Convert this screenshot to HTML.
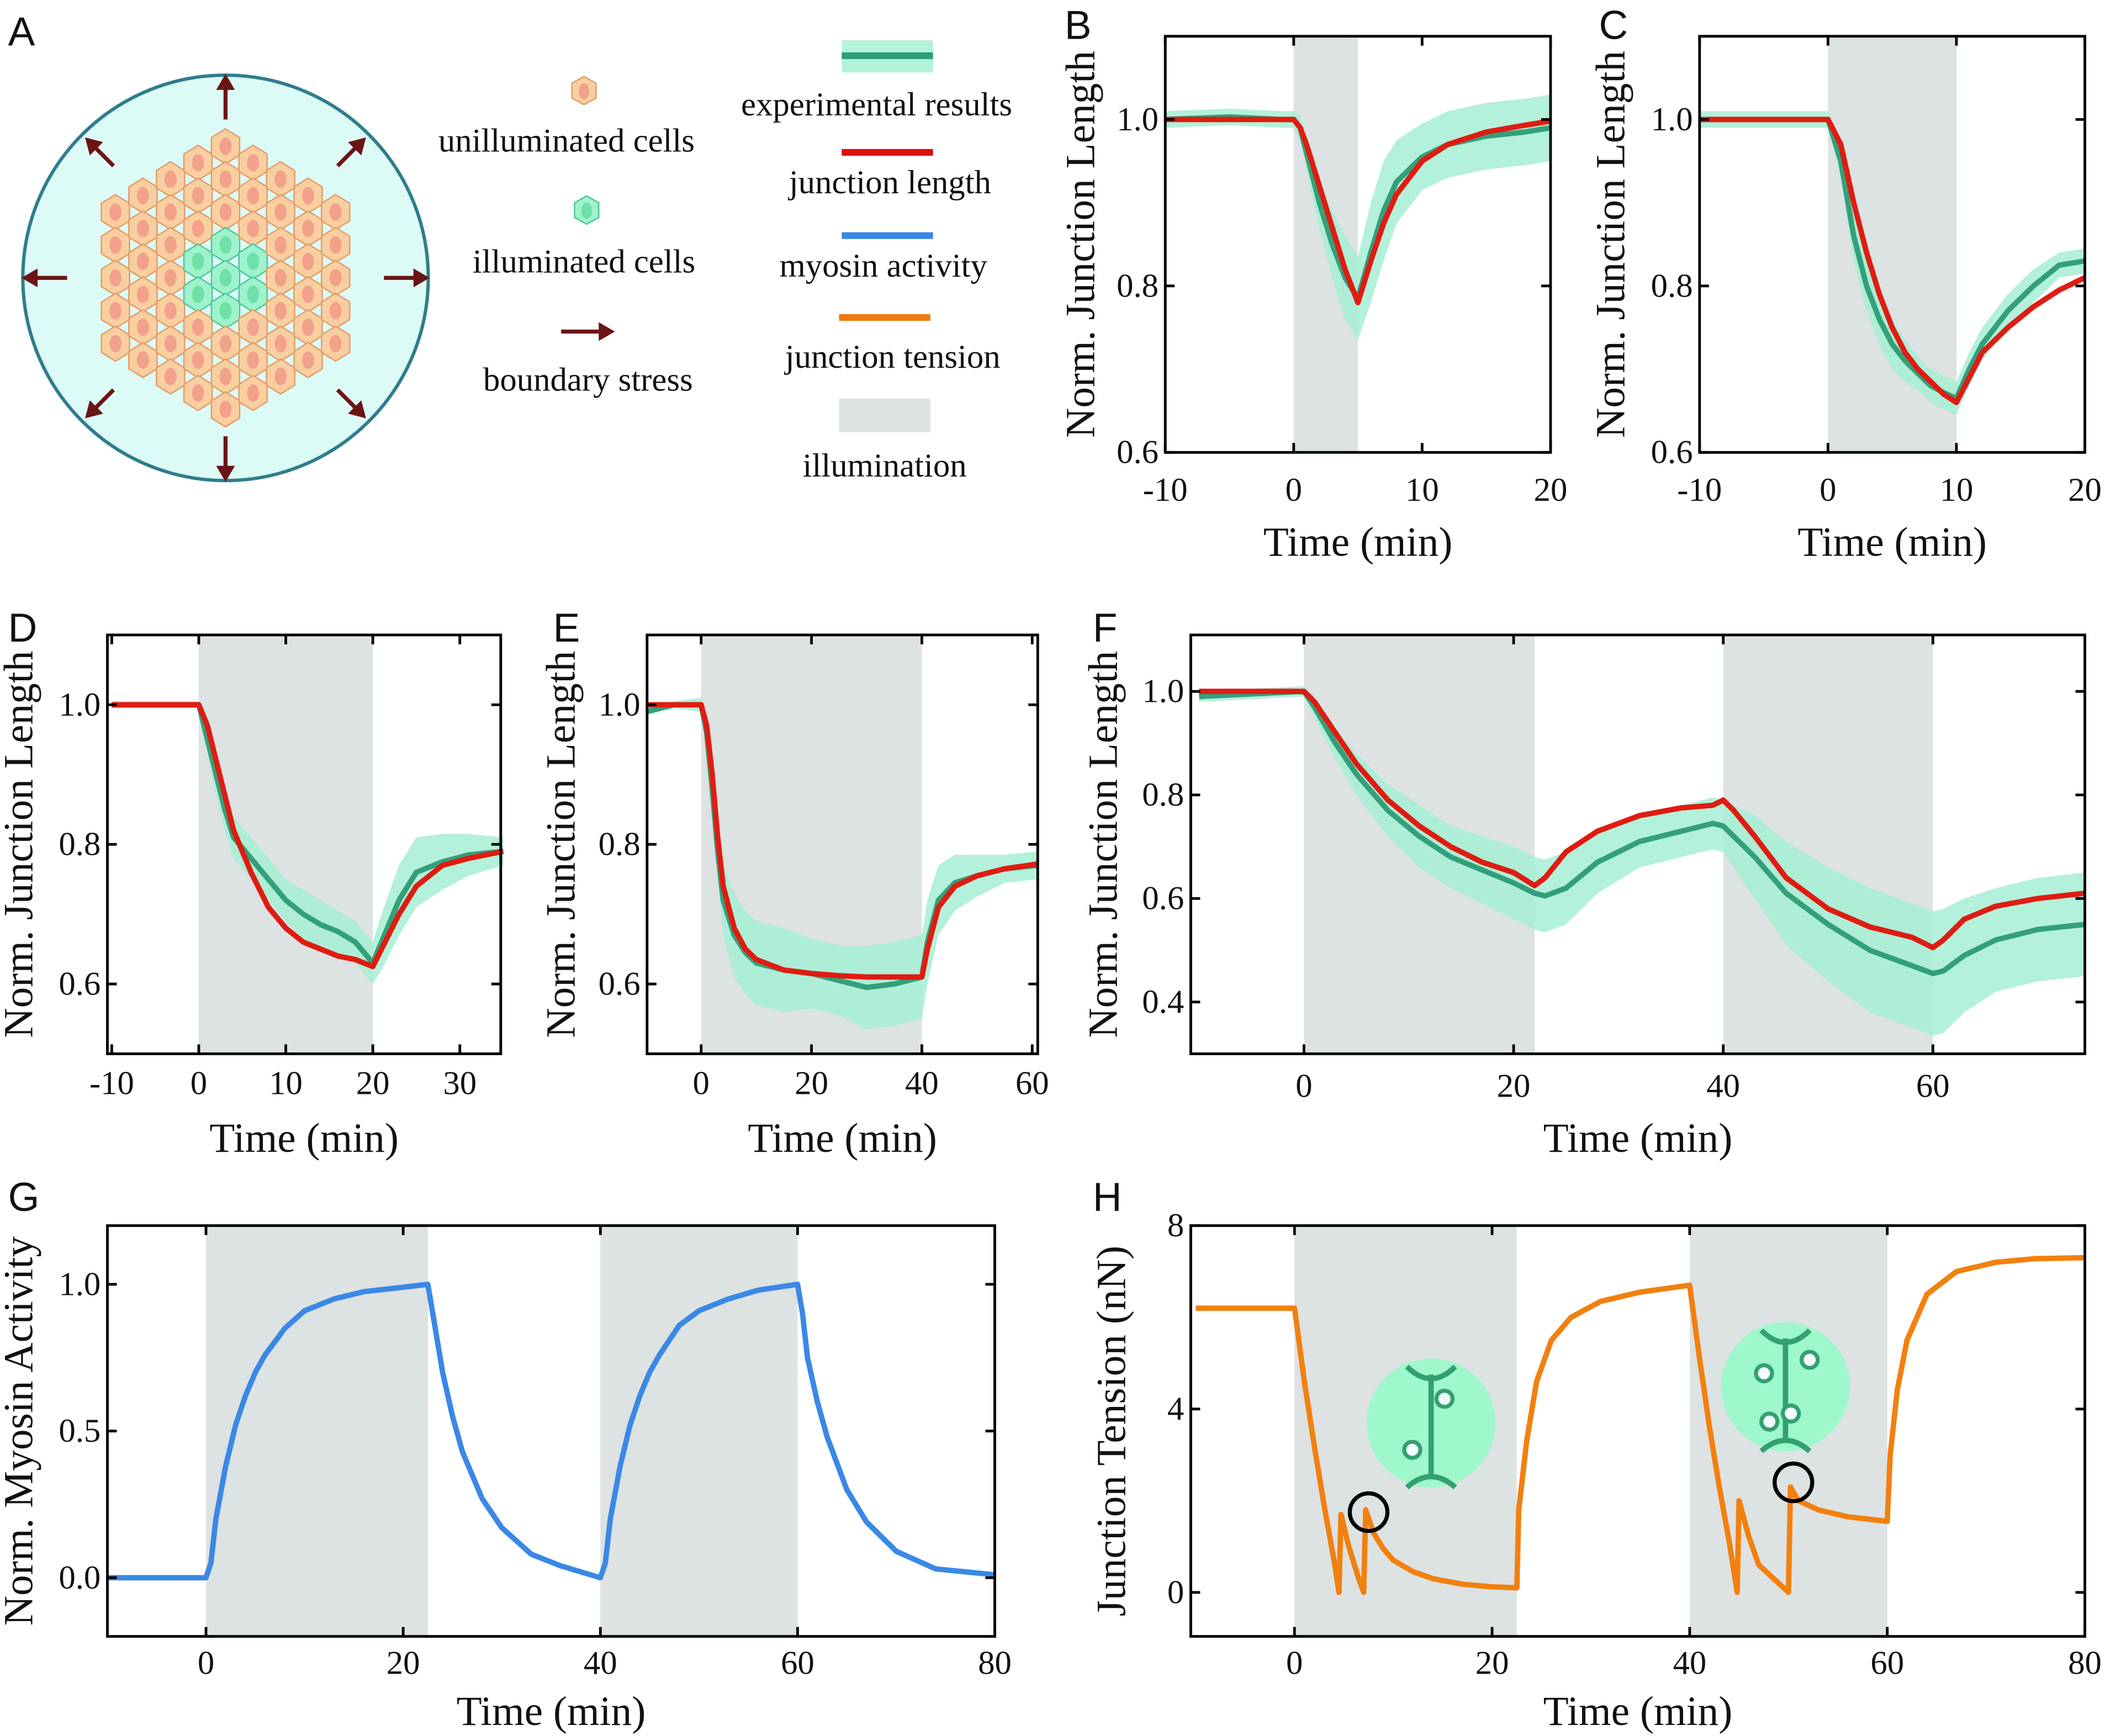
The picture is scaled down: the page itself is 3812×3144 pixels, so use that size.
<!DOCTYPE html>
<html><head><meta charset="utf-8"><style>
html,body{margin:0;padding:0;background:#fff}
svg{display:block}
text{font-family:"Liberation Serif",serif;fill:#111}
.lt{font-family:"Liberation Sans",sans-serif;font-size:30px}
</style></head><body>
<svg id="fig" width="3812" height="3144" viewBox="0 0 1568 1293.2" preserveAspectRatio="none" xmlns="http://www.w3.org/2000/svg">
<g id="panelA">
<text class="lt" x="6" y="34">A</text>
<circle cx="168" cy="207" r="151" fill="#dcfaf6" stroke="#2f7d8c" stroke-width="2.5"/>
<g id="cells"></g>
<g id="arrows"></g>
<g>
<polygon points="435,57 444,62 444,73 435,78 426,73 426,62" fill="#f9cfa0" stroke="#e39a66" stroke-width="1"/>
<ellipse cx="435" cy="68" rx="4" ry="6" fill="#f2a18a"/>
<text x="422" y="113" font-size="25" text-anchor="middle">unilluminated cells</text></g>
<g>
<polygon points="437,146 446,151 446,162 437,167 428,162 428,151" fill="#9ef2cc" stroke="#4bc597" stroke-width="1"/>
<ellipse cx="437" cy="157" rx="4" ry="6" fill="#6fe0a8"/>
<text x="435" y="203" font-size="25" text-anchor="middle">illuminated cells</text></g>
<g>
<line x1="418" y1="247" x2="448" y2="247" stroke="#6b1414" stroke-width="3"/>
<polygon points="458,247 446,240 446,254" fill="#6b1414"/>
<text x="438" y="291" font-size="25" text-anchor="middle">boundary stress</text></g>
<g>
<rect x="627" y="30" width="68" height="24" fill="#b3f3da"/><rect x="627" y="39" width="68" height="5" fill="#2a9e74"/>
<text x="653" y="86" font-size="25" text-anchor="middle">experimental results</text></g>
<g>
<rect x="627" y="111" width="68" height="5" fill="#d80f0f"/>
<text x="663" y="144" font-size="25" text-anchor="middle">junction length</text></g>
<g>
<rect x="627" y="173" width="68" height="5" fill="#3a86e8"/>
<text x="658" y="206" font-size="25" text-anchor="middle">myosin activity</text></g>
<g>
<rect x="625" y="234" width="68" height="5" fill="#f27a0c"/>
<text x="665" y="274" font-size="25" text-anchor="middle">junction tension</text></g>
<g>
<rect x="625" y="297" width="68" height="25" fill="#dde3e3"/>
<text x="659" y="355" font-size="25" text-anchor="middle">illumination</text></g>
</g>
<g id="charts"></g>
</svg>
<script>
// ---------- data ----------
const B_t=[-10,-5,-1,0,0.5,1,2,3,4,5,6,7,8,10,12,15,18,20];
const B_red=[1,1,1,1,0.99,0.97,0.92,0.87,0.82,0.78,0.83,0.875,0.91,0.95,0.97,0.985,0.993,0.998];
const B_green=[1,1.003,1,1,0.99,0.96,0.9,0.85,0.81,0.785,0.84,0.89,0.925,0.955,0.97,0.98,0.985,0.99];
const B_bw=[0.01,0.01,0.01,0.01,0.015,0.02,0.03,0.04,0.05,0.05,0.06,0.06,0.05,0.04,0.04,0.04,0.04,0.04];
const C_t=[-10,-5,0,1,2,3,4,5,6,7,8,9,10,11,12,14,16,18,20];
const C_red=[1,1,1,0.97,0.9,0.84,0.79,0.75,0.72,0.70,0.685,0.67,0.66,0.69,0.72,0.75,0.775,0.795,0.81];
const C_green=[1,1,1,0.95,0.86,0.80,0.76,0.73,0.71,0.695,0.68,0.672,0.665,0.70,0.73,0.77,0.80,0.825,0.83];
const C_bw=[0.01,0.01,0.01,0.02,0.03,0.03,0.03,0.03,0.025,0.02,0.02,0.02,0.02,0.02,0.02,0.02,0.02,0.015,0.015];
const D_t=[-10,-5,0,1,2,3,4,6,8,10,12,14,16,18,20,21,23,25,28,31,35];
const D_red=[1,1,1,0.97,0.92,0.87,0.82,0.76,0.71,0.68,0.66,0.65,0.64,0.635,0.625,0.65,0.70,0.74,0.77,0.78,0.79];
const D_green=[1,1,1,0.95,0.9,0.85,0.81,0.78,0.75,0.72,0.70,0.685,0.675,0.66,0.63,0.66,0.72,0.76,0.775,0.785,0.79];
const D_bw=[0.005,0.005,0.005,0.02,0.03,0.03,0.03,0.03,0.03,0.03,0.035,0.035,0.03,0.03,0.03,0.04,0.05,0.05,0.04,0.03,0.02];
const E_t=[-10,-5,0,1,2,3,4,6,8,10,15,20,25,30,35,40,41,43,46,50,55,61];
const E_red=[1,1,1,0.97,0.9,0.81,0.74,0.68,0.65,0.635,0.62,0.615,0.612,0.61,0.61,0.61,0.65,0.71,0.74,0.755,0.765,0.772];
const E_green=[0.99,1.0,1,0.96,0.88,0.79,0.72,0.67,0.645,0.63,0.62,0.615,0.605,0.595,0.60,0.61,0.66,0.72,0.745,0.755,0.765,0.77];
const E_bw=[0.005,0.005,0.01,0.02,0.03,0.04,0.05,0.06,0.06,0.06,0.06,0.05,0.05,0.06,0.06,0.06,0.06,0.05,0.04,0.03,0.02,0.02];
const F_t=[-10,0,1,3,5,8,11,14,17,20,22,23,25,28,32,36,39,40,41,43,46,50,54,58,60,61,63,66,70,74.5];
const F_red=[1,1,0.98,0.92,0.86,0.79,0.74,0.70,0.67,0.65,0.625,0.64,0.69,0.73,0.76,0.775,0.78,0.79,0.77,0.72,0.64,0.58,0.545,0.525,0.505,0.52,0.56,0.585,0.60,0.61];
const F_green=[0.99,1,0.97,0.90,0.84,0.77,0.72,0.68,0.655,0.63,0.61,0.605,0.62,0.67,0.71,0.73,0.745,0.74,0.72,0.68,0.61,0.55,0.50,0.47,0.455,0.46,0.49,0.52,0.54,0.55];
const F_bw=[0.01,0.01,0.02,0.03,0.04,0.05,0.06,0.06,0.065,0.07,0.07,0.07,0.07,0.06,0.05,0.05,0.05,0.05,0.06,0.08,0.1,0.11,0.12,0.12,0.12,0.12,0.11,0.1,0.1,0.1];
const G_t=[-10,0,0.5,1,2,3,4,5,6,8,10,13,16,20,22.5,23,24,25,26,28,30,33,36,40,40.5,41,42,43,44,45,46,48,50,53,56,60,60.5,61,62,63,65,67,70,74,80];
const G_v=[0,0,0.05,0.2,0.38,0.52,0.62,0.70,0.76,0.85,0.91,0.95,0.975,0.99,1.0,0.9,0.7,0.55,0.43,0.27,0.17,0.08,0.04,0.0,0.05,0.2,0.38,0.52,0.62,0.70,0.76,0.86,0.91,0.95,0.98,1.0,0.9,0.75,0.6,0.48,0.3,0.19,0.09,0.03,0.01];
const H_t=[-10,0,1,2,3,4,4.5,4.7,5.5,6.5,7,7.2,8,9,10,12,14,17,20,22.5,22.7,23.5,24.5,26,28,31,35,40,41,42,43,44,44.8,45,46,47,50,50.2,51,53,56,60,60.3,61,62,64,67,71,75,80];
const H_v=[6.2,6.2,4.6,3.2,1.9,0.7,0,1.7,1.0,0.3,0,1.8,1.3,0.95,0.7,0.45,0.3,0.18,0.12,0.1,1.8,3.3,4.6,5.5,6.0,6.35,6.55,6.7,5.1,3.6,2.3,1.1,0,2.0,1.2,0.6,0,2.3,2.0,1.8,1.65,1.55,3.0,4.4,5.5,6.5,7.0,7.2,7.28,7.3];
// ---------- helpers ----------
const NS='http://www.w3.org/2000/svg';
const charts=document.getElementById('charts');
function mk(tag,attrs,parent){const e=document.createElementNS(NS,tag);for(const k in attrs)e.setAttribute(k,attrs[k]);(parent||charts).appendChild(e);return e;}
function panel(o){
  const g=mk('g',{});
  
  
  const sx=v=>o.x0+(v-o.xmin)/(o.xmax-o.xmin)*(o.x1-o.x0);
  const sy=v=>o.y1-(v-o.ymin)/(o.ymax-o.ymin)*(o.y1-o.y0);
  o.illum.forEach(r=>{const e=mk('rect',{x:sx(r[0]),y:o.y0,width:sx(r[1])-sx(r[0]),height:o.y1-o.y0,fill:'#dde2e2'},g);
    
    });
  const line=(t,v)=>t.map((x,i)=>(i?'L':'M')+sx(x).toFixed(1)+','+sy(v[i]).toFixed(1)).join('');
  if(o.green){
    const up=o.t.map((x,i)=>sx(x).toFixed(1)+','+sy(o.green[i]+o.bw[i]).toFixed(1));
    const lo=o.t.map((x,i)=>sx(x).toFixed(1)+','+sy(o.green[i]-o.bw[i]).toFixed(1)).reverse();
    const b=mk('polygon',{points:up.concat(lo).join(' '),fill:'#a6efd3','fill-opacity':'0.85'},g);
    
    
    const gl=mk('path',{d:line(o.t,o.green),fill:'none',stroke:'#33a07a','stroke-width':4,'stroke-linejoin':'round'},g);
    
    
  }
  o.lines.forEach(L=>{const p=mk('path',{d:line(L.t,L.v),fill:'none',stroke:L.c,'stroke-width':4,'stroke-linejoin':'round'},g);
    
    });
  const f=mk('rect',{x:o.x0,y:o.y0,width:o.x1-o.x0,height:o.y1-o.y0,fill:'none',stroke:'#000','stroke-width':2},g);
  
  
  o.xt.forEach((v,i)=>{const x=sx(v);
    mk('line',{x1:x,y1:o.y1,x2:x,y2:o.y1-7,stroke:'#000','stroke-width':2},g);
    mk('line',{x1:x,y1:o.y0,x2:x,y2:o.y0+7,stroke:'#000','stroke-width':2},g);
    const t=mk('text',{x:x+(o.xoff||0),y:o.y1+o.tOff,'font-size':25,'text-anchor':'middle'},g);t.textContent=o.xl[i];
    
    });
  o.yt.forEach((v,i)=>{const y=sy(v);
    mk('line',{x1:o.x0,y1:y,x2:o.x0+7,y2:y,stroke:'#000','stroke-width':2},g);
    mk('line',{x1:o.x1,y1:y,x2:o.x1-7,y2:y,stroke:'#000','stroke-width':2},g);
    const t=mk('text',{x:o.x0-5,y:y+8,'font-size':25,'text-anchor':'end'},g);t.textContent=o.yl[i];
    
    });
  const xt=mk('text',{x:(o.x0+o.x1)/2,y:o.y1+o.titleOff,'font-size':31,'text-anchor':'middle'},g);xt.textContent='Time (min)';
  
  
  const yc=(o.y0+o.y1)/2;
  const yt=mk('text',{x:o.ytx,y:yc,'font-size':31,'text-anchor':'middle',transform:`rotate(-90 ${o.ytx} ${yc})`},g);yt.textContent=o.ytitle;
  
  
  const pl=mk('text',{x:o.lx,y:o.ly,class:'lt'},g);pl.textContent=o.id.toUpperCase();
  
  
  return {sx,sy,g};
}
const JL='Norm. Junction Length';
panel({id:'b',x0:868,x1:1155,y0:27,y1:337,xmin:-10,xmax:20,ymin:0.6,ymax:1.1,illum:[[0,5]],t:B_t,green:B_green,bw:B_bw,tOff:36,titleOff:77,
  lines:[{t:B_t,v:B_red,c:'#df1c12',name:'junction-length-line'}],xt:[-10,0,10,20],xl:['-10','0','10','20'],yt:[0.6,0.8,1.0],yl:['0.6','0.8','1.0'],ytx:815,ytitle:JL,lx:793,ly:29});
panel({id:'c',x0:1266,x1:1553,y0:27,y1:337,xmin:-10,xmax:20,ymin:0.6,ymax:1.1,illum:[[0,10]],t:C_t,green:C_green,bw:C_bw,tOff:36,titleOff:77,
  lines:[{t:C_t,v:C_red,c:'#df1c12',name:'junction-length-line'}],xt:[-10,0,10,20],xl:['-10','0','10','20'],yt:[0.6,0.8,1.0],yl:['0.6','0.8','1.0'],ytx:1210,ytitle:JL,lx:1191,ly:29});
panel({id:'d',x0:80,x1:373,y0:473,y1:785,xmin:-10.5,xmax:34.7,ymin:0.5,ymax:1.1,illum:[[0,20]],t:D_t,green:D_green,bw:D_bw,tOff:30,titleOff:73,
  lines:[{t:D_t,v:D_red,c:'#df1c12',name:'junction-length-line'}],xt:[-10,0,10,20,30],xl:['-10','0','10','20','30'],yt:[0.6,0.8,1.0],yl:['0.6','0.8','1.0'],ytx:24,ytitle:JL,lx:6,ly:478});
panel({id:'e',x0:482,x1:773,y0:473,y1:785,xmin:-9.8,xmax:61,ymin:0.5,ymax:1.1,illum:[[0,40]],t:E_t,green:E_green,bw:E_bw,tOff:30,titleOff:73,
  lines:[{t:E_t,v:E_red,c:'#df1c12',name:'junction-length-line'}],xt:[0,20,40,60],xl:['0','20','40','60'],yt:[0.6,0.8,1.0],yl:['0.6','0.8','1.0'],ytx:428,ytitle:JL,lx:412,ly:478});
panel({id:'f',x0:887,x1:1553,y0:473,y1:785,xmin:-10.8,xmax:74.5,ymin:0.3,ymax:1.109,illum:[[0,22],[40,60]],t:F_t,green:F_green,bw:F_bw,tOff:32,titleOff:73,
  lines:[{t:F_t,v:F_red,c:'#df1c12',name:'junction-length-line'}],xt:[0,20,40,60],xl:['0','20','40','60'],yt:[0.4,0.6,0.8,1.0],yl:['0.4','0.6','0.8','1.0'],ytx:832,ytitle:JL,lx:814,ly:478});
panel({id:'g',x0:80,x1:741,y0:913,y1:1219,xmin:-10,xmax:80,ymin:-0.2,ymax:1.2,illum:[[0,22.5],[40,60]],tOff:28,titleOff:66,
  lines:[{t:G_t,v:G_v,c:'#3a88e6',name:'myosin-activity-line'}],xt:[0,20,40,60,80],xl:['0','20','40','60','80'],yt:[0,0.5,1.0],yl:['0.0','0.5','1.0'],ytx:24,ytitle:'Norm. Myosin Activity',lx:6,ly:902});
const H=panel({id:'h',x0:887,x1:1553,y0:913,y1:1219,xmin:-10.5,xmax:80,ymin:-0.96,ymax:8,illum:[[0,22.5],[40,60]],tOff:28,titleOff:66,
  lines:[{t:H_t,v:H_v,c:'#f2800e',name:'junction-tension-line'}],xt:[0,20,40,60,80],xl:['0','20','40','60','80'],yt:[0,4,8],yl:['0','4','8'],ytx:838,ytitle:'Junction Tension (nN)',lx:814,ly:902});
function inset(cx,cy,dots,name){
  const g=mk('g',{},H.g);
  
  
  mk('circle',{cx,cy,r:48,fill:'#9ef8cc'},g);
  mk('line',{x1:cx,y1:cy-36,x2:cx,y2:cy+40,stroke:'#33a070','stroke-width':4},g);
  mk('path',{d:`M${cx-18},${cy-42} Q${cx},${cy-24} ${cx+18},${cy-42}`,fill:'none',stroke:'#33a070','stroke-width':4},g);
  mk('path',{d:`M${cx-18},${cy+48} Q${cx},${cy+32} ${cx+18},${cy+48}`,fill:'none',stroke:'#33a070','stroke-width':4},g);
  dots.forEach(d=>mk('circle',{cx:cx+d[0],cy:cy+d[1],r:6,fill:'#f4fbff',stroke:'#33a070','stroke-width':3},g));
}
inset(1066,1060,[[10,-18],[-14,20]],'inset-junction-1');
inset(1330,1033,[[-16,-10],[18,-20],[4,20],[-12,26]],'inset-junction-2');
[[7.5,1.75],[50.5,2.4]].forEach(p=>{const c=mk('circle',{cx:H.sx(p[0]),cy:H.sy(p[1]),r:14,fill:'none',stroke:'#000','stroke-width':3},H.g);
  
  });
// Panel A cells
const cells=document.getElementById('cells');
for(let c=-4;c<=4;c++){for(let r=-6;r<=6;r++){
  const x=168+c*20.5, y=207+r*24.5+(Math.abs(c)%2?12.25:0);
  const dx=Math.abs(x-168), dy=Math.abs(y-207);
  if(dy+dx*0.45>108) continue;
  const green=(c===0&&Math.abs(r)<=1)||(Math.abs(c)===1&&(r===-1||r===0));
  const h=document.createElementNS(NS,'polygon');
  h.setAttribute('points',[[0,-13],[10.5,-6.5],[10.5,6.5],[0,13],[-10.5,6.5],[-10.5,-6.5]].map(p=>(x+p[0])+','+(y+p[1])).join(' '));
  h.setAttribute('fill',green?'#9ef2cc':'#f9cfa0');h.setAttribute('stroke',green?'#4bc597':'#e39a66');h.setAttribute('stroke-width','1');
  
  
  cells.appendChild(h);
  const n=document.createElementNS(NS,'ellipse');
  n.setAttribute('cx',x);n.setAttribute('cy',y);n.setAttribute('rx',4.5);n.setAttribute('ry',6.5);n.setAttribute('fill',green?'#6fe0a8':'#f2a18a');
  cells.appendChild(n);
}}
const arrows=document.getElementById('arrows');
for(let k=0;k<8;k++){const a=k*Math.PI/4-Math.PI/2;const c=Math.cos(a),s=Math.sin(a);
  const r0=k%2?118:118,r1=k%2?148:152;
  const l=document.createElementNS(NS,'line');
  l.setAttribute('x1',168+c*r0);l.setAttribute('y1',207+s*r0);l.setAttribute('x2',168+c*(r1-8));l.setAttribute('y2',207+s*(r1-8));
  l.setAttribute('stroke','#6b1414');l.setAttribute('stroke-width','3');
  
  
  arrows.appendChild(l);
  const tx=168+c*r1,ty=207+s*r1,bx=168+c*(r1-12),by=207+s*(r1-12);
  const p=document.createElementNS(NS,'polygon');
  p.setAttribute('points',`${tx},${ty} ${bx-s*7},${by+c*7} ${bx+s*7},${by-c*7}`);
  p.setAttribute('fill','#6b1414');
  arrows.appendChild(p);
}
</script>
</body></html>
